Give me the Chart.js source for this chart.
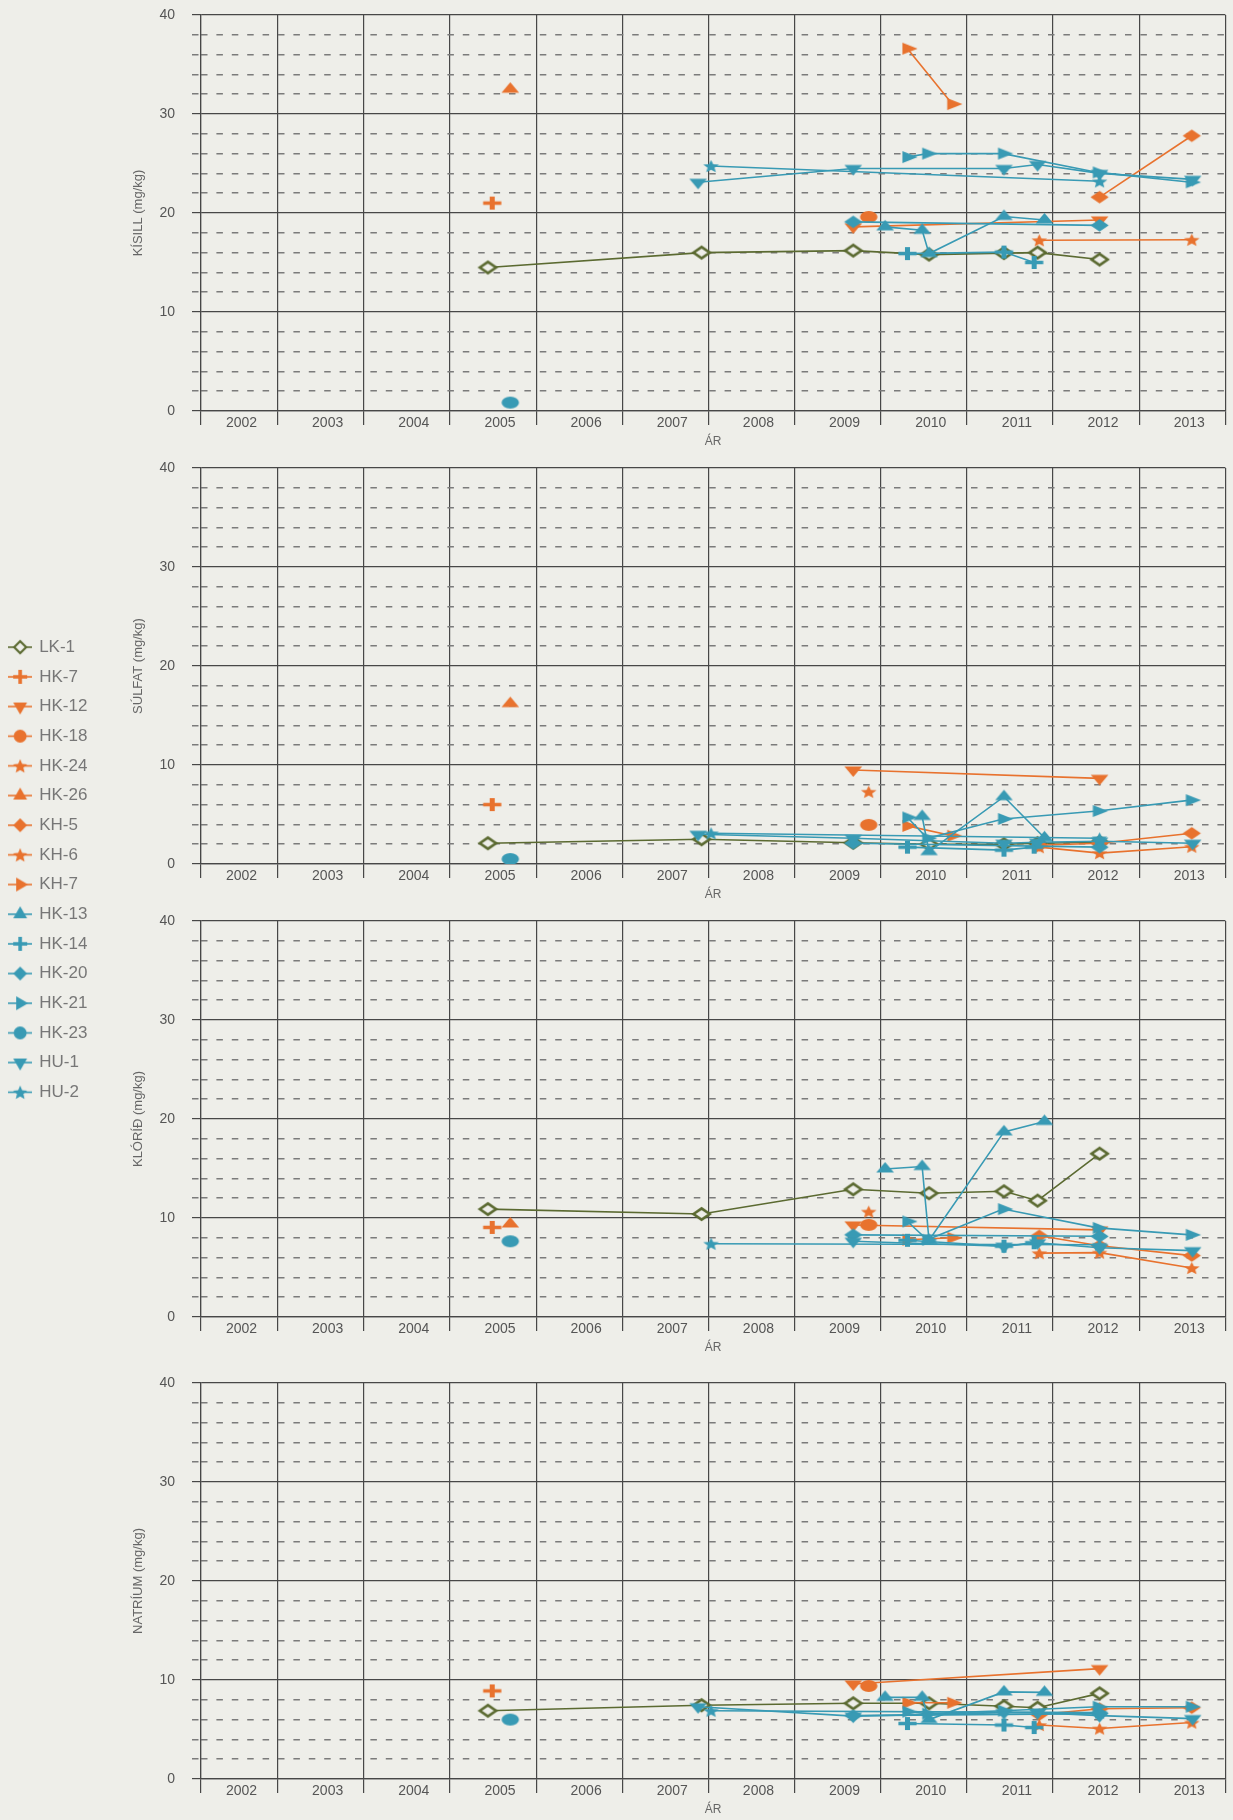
<!DOCTYPE html>
<html>
<head>
<meta charset="utf-8">
<script src="https://cdn.jsdelivr.net/npm/chart.js@4.4.1/dist/chart.umd.min.js"></script>
<style>
  html, body { margin: 0; padding: 0; background: #eeeee9; }
  body { width: 1233px; height: 1820px; position: relative; overflow: hidden; }
  canvas { position: absolute; }
</style>
</head>
<body>
<canvas id="p0" width="1233" height="456" style="left:0;top:0"></canvas>
<canvas id="p1" width="1233" height="456" style="left:0;top:453px"></canvas>
<canvas id="p2" width="1233" height="456" style="left:0;top:906px"></canvas>
<canvas id="p3" width="1233" height="456" style="left:0;top:1368px"></canvas>
<canvas id="legend" width="120" height="1000" style="left:-3px;top:626px"></canvas>
<script>
// axes
const panelTitles = ['KÍSILL (mg/kg)', 'SÚLFAT (mg/kg)', 'KLÓRÍÐ (mg/kg)', 'NATRÍUM (mg/kg)'];
const yearLabels = [2002, 2003, 2004, 2005, 2006, 2007, 2008, 2009, 2010, 2011, 2012, 2013];
const yearLines = [2003, 2004, 2005, 2006, 2007, 2008, 2009, 2010, 2011, 2012, 2013, 2014];
const yTicks = [0, 10, 20, 30, 40];
const yMinorTicks = [2, 4, 6, 8, 12, 14, 16, 18, 22, 24, 26, 28, 32, 34, 36, 38];
const xStart = 2002.11;
const xEnd = 2014;

// sampling dates (decimal year) and values: kísill, súlfat, klóríð, natríum
const lk1Dates = [2005.44, 2007.92, 2009.68, 2010.56, 2011.43, 2011.82, 2012.54];
const lk1Si = [14.5, 16.0, 16.2, 15.8, 15.95, 16.0, 15.3];
const lk1So4 = [2.1, 2.5, 2.15, 2.0, 2.0, 2.1, 2.2];
const lk1Cl = [10.9, 10.4, 12.9, 12.5, 12.7, 11.75, 16.5];
const lk1Na = [6.9, 7.45, 7.65, 7.65, 7.35, 7.2, 8.65];

const hk7Dates = [2005.49];
const hk7Si = [21.0];
const hk7So4 = [6.0];
const hk7Cl = [9.05];
const hk7Na = [8.9];

const hk12Dates = [2009.68, 2012.54];
const hk12Si = [18.6, 19.3];
const hk12So4 = [9.5, 8.65];
const hk12Cl = [9.3, 8.8];
const hk12Na = [9.6, 11.15];

const hk18Dates = [2009.86];
const hk18Si = [19.6];
const hk18So4 = [3.95];
const hk18Cl = [9.3];
const hk18Na = [9.4];

const hk24Dates = [2009.86];
const hk24Si = [null];
const hk24So4 = [7.3];
const hk24Cl = [10.65];
const hk24Na = [null];

const hk26Dates = [2005.70];
const hk26Si = [32.5];
const hk26So4 = [16.2];
const hk26Cl = [9.4];
const hk26Na = [null];

const kh5Dates = [2011.84, 2012.54, 2013.61];
const kh5Si = [null, 21.6, 27.8];
const kh5So4 = [1.9, 2.1, 3.1];
const kh5Cl = [8.2, 7.2, 6.2];
const kh5Na = [6.5, 7.1, 7.2];

const kh6Dates = [2011.84, 2012.54, 2013.61];
const kh6Si = [17.25, null, 17.3];
const kh6So4 = [1.7, 1.1, 1.75];
const kh6Cl = [6.45, 6.5, 4.95];
const kh6Na = [5.45, 5.1, 5.7];

const kh7Dates = [2010.31, 2010.83];
const kh7Si = [36.6, 31.0];
const kh7So4 = [3.85, 2.85];
const kh7Cl = [7.8, 8.0];
const kh7Na = [7.7, 7.7];

const hk13Dates = [2010.05, 2010.48, 2010.56, 2011.43, 2011.90];
const hk13Si = [18.6, 18.25, 15.9, 19.65, 19.3];
const hk13So4 = [null, 4.8, 1.25, 6.8, 2.65];
const hk13Cl = [14.95, 15.2, 7.75, 18.7, 19.75];
const hk13Na = [8.25, 8.25, 6.0, 8.8, 8.75];

const hk14Dates = [2010.31, 2011.43, 2011.78];
const hk14Si = [15.9, 16.05, 15.0];
const hk14So4 = [1.7, 1.4, 1.7];
const hk14Cl = [7.75, 7.15, 7.5];
const hk14Na = [5.6, 5.45, 5.2];

const hk20Dates = [2009.68, 2012.54];
const hk20Si = [19.1, 18.75];
const hk20So4 = [2.1, 1.7];
const hk20Cl = [8.3, 8.15];
const hk20Na = [6.4, 6.6];

const hk21Dates = [2010.31, 2010.54, 2011.42, 2012.52, 2013.60];
const hk21Si = [25.65, 26.0, 26.0, 24.1, 23.1];
const hk21So4 = [4.7, 2.6, 4.55, 5.35, 6.45];
const hk21Cl = [9.65, 7.8, 10.9, 9.0, 8.3];
const hk21Na = [6.8, 6.6, 6.9, 7.3, 7.3];

const hk23Dates = [2005.70];
const hk23Si = [0.85];
const hk23So4 = [0.5];
const hk23Cl = [7.65];
const hk23Na = [6.0];

const hu1Dates = [2007.88, 2009.68, 2011.43, 2011.82, 2012.54, 2013.62];
const hu1Si = [23.1, 24.5, 24.5, 24.9, 24.0, 23.4];
const hu1So4 = [3.0, 2.6, 2.1, 2.2, 2.3, 2.1];
const hu1Cl = [null, 7.65, 7.15, 7.5, 7.0, 6.7];
const hu1Na = [7.3, 6.35, 6.7, 6.7, 6.4, 6.1];

const hu2Dates = [2008.03, 2012.54];
const hu2Si = [24.75, 23.2];
const hu2So4 = [3.1, 2.6];
const hu2Cl = [7.4, 7.3];
const hu2Na = [6.9, 6.7];

const stations = [
  { label: 'LK-1', dates: lk1Dates, values: [lk1Si, lk1So4, lk1Cl, lk1Na] },
  { label: 'HK-7', dates: hk7Dates, values: [hk7Si, hk7So4, hk7Cl, hk7Na] },
  { label: 'HK-12', dates: hk12Dates, values: [hk12Si, hk12So4, hk12Cl, hk12Na] },
  { label: 'HK-18', dates: hk18Dates, values: [hk18Si, hk18So4, hk18Cl, hk18Na] },
  { label: 'HK-24', dates: hk24Dates, values: [hk24Si, hk24So4, hk24Cl, hk24Na] },
  { label: 'HK-26', dates: hk26Dates, values: [hk26Si, hk26So4, hk26Cl, hk26Na] },
  { label: 'KH-5', dates: kh5Dates, values: [kh5Si, kh5So4, kh5Cl, kh5Na] },
  { label: 'KH-6', dates: kh6Dates, values: [kh6Si, kh6So4, kh6Cl, kh6Na] },
  { label: 'KH-7', dates: kh7Dates, values: [kh7Si, kh7So4, kh7Cl, kh7Na] },
  { label: 'HK-13', dates: hk13Dates, values: [hk13Si, hk13So4, hk13Cl, hk13Na] },
  { label: 'HK-14', dates: hk14Dates, values: [hk14Si, hk14So4, hk14Cl, hk14Na] },
  { label: 'HK-20', dates: hk20Dates, values: [hk20Si, hk20So4, hk20Cl, hk20Na] },
  { label: 'HK-21', dates: hk21Dates, values: [hk21Si, hk21So4, hk21Cl, hk21Na] },
  { label: 'HK-23', dates: hk23Dates, values: [hk23Si, hk23So4, hk23Cl, hk23Na] },
  { label: 'HU-1', dates: hu1Dates, values: [hu1Si, hu1So4, hu1Cl, hu1Na] },
  { label: 'HU-2', dates: hu2Dates, values: [hu2Si, hu2So4, hu2Cl, hu2Na] }
];

// styles
const BG = '#eeeee9';
const OLIVE = '#5b6a31';
const ORANGE = '#e8722e';
const TEAL = '#389ab4';
const GRID = '#474747';
const MINOR = '#7b7b7b';
const FONT = '"Liberation Sans", Arial, sans-serif';
const LABEL_OFFSET = 0.58;

const markerStyles = [
  { color: OLIVE, shape: 'rectRot', hollow: true },
  { color: ORANGE, shape: 'cross' },
  { color: ORANGE, shape: 'triangle', rot: 180 },
  { color: ORANGE, shape: 'circle' },
  { color: ORANGE, shape: 'star' },
  { color: ORANGE, shape: 'triangle', rot: 0 },
  { color: ORANGE, shape: 'rectRot' },
  { color: ORANGE, shape: 'star' },
  { color: ORANGE, shape: 'triangle', rot: 90 },
  { color: TEAL, shape: 'triangle', rot: 0 },
  { color: TEAL, shape: 'cross' },
  { color: TEAL, shape: 'rectRot' },
  { color: TEAL, shape: 'triangle', rot: 90 },
  { color: TEAL, shape: 'circle' },
  { color: TEAL, shape: 'triangle', rot: 180 },
  { color: TEAL, shape: 'star' }
];

function drawStar(ctx, R) {
  ctx.beginPath();
  for (let i = 0; i < 10; i++) {
    const rr = i % 2 ? R * 0.45 : R;
    const a = -Math.PI / 2 + i * Math.PI / 5;
    ctx.lineTo(Math.cos(a) * rr, Math.sin(a) * rr + R * 0.1);
  }
  ctx.closePath();
  ctx.fill();
}

// marker picture, drawn with the library's point helper; sx stretches it sideways
function makeMarker(st, legend) {
  const sx = legend ? 1 : (st.shape === 'star' ? 1.2 : st.shape === 'cross' ? 1.4 : 1.45);
  let r;
  if (st.shape === 'circle') r = legend ? 6.5 : 6;
  else if (st.shape === 'triangle') r = legend ? 8 : 7;
  else if (st.shape === 'star') r = legend ? 7.5 : 6.8;
  else if (st.shape === 'cross') r = legend ? 7 : 6.5;
  else r = st.hollow ? (legend ? 6 : 5.6) : (legend ? 7 : 6.3);

  const w = legend ? 24 : Math.ceil(2 * r * sx + 6);
  const h = Math.ceil(2 * r + 6);
  const c = document.createElement('canvas');
  c.width = w;
  c.height = h;
  const ctx = c.getContext('2d');
  if (legend) {
    ctx.strokeStyle = st.color;
    ctx.lineWidth = 1.6;
    ctx.beginPath();
    ctx.moveTo(0, h / 2);
    ctx.lineTo(w, h / 2);
    ctx.stroke();
  }
  ctx.save();
  ctx.translate(w / 2, h / 2);
  ctx.scale(sx, 1);
  ctx.fillStyle = st.hollow ? BG : st.color;
  ctx.strokeStyle = st.color;
  let bw = 0;
  if (st.shape === 'cross') bw = 3.6;
  if (st.hollow) bw = 2.2;
  ctx.lineWidth = bw;
  if (st.shape === 'star') {
    drawStar(ctx, r);
  } else {
    Chart.helpers.drawPoint(ctx, { pointStyle: st.shape, radius: r, rotation: st.rot || 0, borderWidth: bw }, 0, 0);
  }
  ctx.restore();
  return c;
}

const plotMarkers = markerStyles.map(st => makeMarker(st, false));
const legendIcons = markerStyles.map(st => makeMarker(st, true));

const xLabelText = new Map(yearLabels.map(y => [y + LABEL_OFFSET, String(y)]));
const xBoundaries = new Set([xStart, ...yearLines]);
const xTickValues = [...xBoundaries, ...xLabelText.keys()].sort((a, b) => a - b);

function panelChart(canvasId, p) {
  const datasets = stations.map((st, i) => ({
    label: st.label,
    data: st.dates.map((d, k) => ({ x: d, y: st.values[p][k] })),
    borderColor: markerStyles[i].color,
    backgroundColor: markerStyles[i].color,
    borderWidth: 1.6,
    pointStyle: plotMarkers[i],
    pointRadius: 6,
    pointHoverRadius: 6,
    spanGaps: true,
    tension: 0,
    order: stations.length - i
  }));

  new Chart(document.getElementById(canvasId), {
    type: 'line',
    data: { datasets },
    options: {
      responsive: false,
      animation: false,
      events: [],
      layout: { padding: { top: 15, right: 1, bottom: 0, left: 0 } },
      plugins: { legend: { display: false }, tooltip: { enabled: false } },
      scales: {
        x: {
          type: 'linear',
          min: xStart,
          max: xEnd,
          afterBuildTicks: scale => { scale.ticks = xTickValues.map(v => ({ value: v })); },
          afterFit: scale => { scale.height = 45; },
          grid: {
            color: c => (c.tick && xBoundaries.has(c.tick.value) ? GRID : 'rgba(0,0,0,0)'),
            tickColor: c => (c.tick && xBoundaries.has(c.tick.value) ? GRID : 'rgba(0,0,0,0)'),
            lineWidth: 1.2,
            tickLength: 14
          },
          border: { display: true, color: GRID, width: 1.2 },
          ticks: {
            autoSkip: false,
            maxRotation: 0,
            minRotation: 0,
            padding: -10,
            color: '#555',
            font: { family: FONT, size: 14 },
            callback: v => xLabelText.get(v) || ''
          },
          title: {
            display: true,
            text: 'ÁR',
            color: '#666',
            font: { family: FONT, size: 12 },
            padding: { top: 0, bottom: 7 }
          }
        },
        y: {
          position: 'left',
          weight: 1,
          min: 0,
          max: 40,
          afterBuildTicks: scale => { scale.ticks = yTicks.map(v => ({ value: v })); },
          afterFit: scale => {
            scale.width = 201;
            scale.paddingTop = 0;
            scale.paddingBottom = 0;
          },
          grid: { color: GRID, lineWidth: 1.2, tickLength: 9, tickColor: GRID },
          border: { display: true, color: GRID, width: 1.2 },
          ticks: { padding: 17, color: '#555', font: { family: FONT, size: 14 } },
          title: {
            display: true,
            text: panelTitles[p],
            color: '#666',
            font: { family: FONT, size: 13 },
            padding: { top: 131, bottom: 0 }
          }
        },
        yMinor: {
          position: 'left',
          weight: 0,
          min: 0,
          max: 40,
          afterBuildTicks: scale => { scale.ticks = yMinorTicks.map(v => ({ value: v })); },
          afterFit: scale => {
            scale.width = 0;
            scale.paddingTop = 0;
            scale.paddingBottom = 0;
          },
          grid: {
            color: MINOR,
            lineWidth: 1.5,
            tickLength: 9,
            tickColor: MINOR,
            tickBorderDash: [6.5, 8.9]
          },
          border: { display: false, dash: [6.5, 8.9] },
          ticks: { display: false }
        }
      }
    }
  });
}

panelChart('p0', 0);
panelChart('p1', 1);
panelChart('p2', 2);
panelChart('p3', 3);

// legend
new Chart(document.getElementById('legend'), {
  type: 'line',
  data: { datasets: stations.map(st => ({ label: st.label, data: [] })) },
  options: {
    responsive: false,
    animation: false,
    events: [],
    layout: { padding: 0 },
    scales: { x: { display: false }, y: { display: false } },
    plugins: {
      tooltip: { enabled: false },
      legend: {
        position: 'top',
        align: 'start',
        labels: {
          usePointStyle: true,
          pointStyleWidth: 21,
          padding: 12.67,
          color: '#777',
          font: { family: FONT, size: 17 },
          generateLabels: () => stations.map((st, i) => ({
            text: st.label,
            pointStyle: legendIcons[i],
            fillStyle: markerStyles[i].color,
            strokeStyle: markerStyles[i].color,
            fontColor: '#777',
            lineWidth: 0,
            hidden: false,
            datasetIndex: i
          }))
        }
      }
    }
  }
});
</script>
</body>
</html>
